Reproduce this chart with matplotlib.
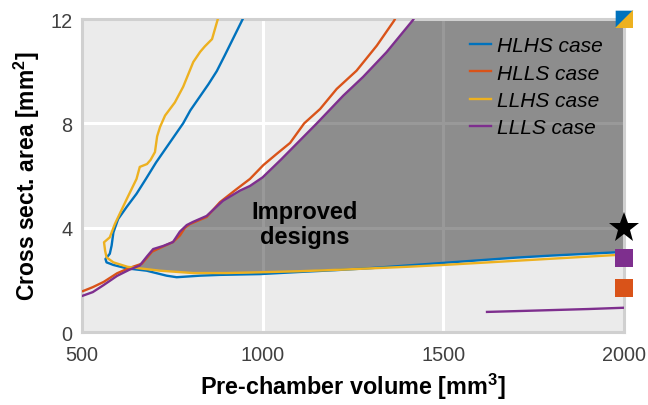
import numpy as np
import matplotlib
matplotlib.use('Agg')
import matplotlib.pyplot as plt

plt.rcParams['font.family'] = ['Liberation Sans', 'DejaVu Sans']
plt.rcParams['mathtext.fontset'] = 'custom'
plt.rcParams['mathtext.bf'] = 'Liberation Sans:bold'
plt.rcParams['mathtext.rm'] = 'Liberation Sans'

# Datos
hlhs_x = [945, 920, 895, 873, 850, 825, 800, 780, 755, 730, 705, 677, 651, 624, 600,
          587, 582, 577, 565, 568, 587, 624, 679, 734, 762, 827, 882, 993,
          1100, 1200, 1300, 1400, 1500, 1600, 1700, 1800, 1900, 2000]
hlhs_y = [12.0, 11.3, 10.6, 10.0, 9.5, 9.0, 8.5, 8.0, 7.5, 7.0, 6.5, 5.87, 5.3, 4.8, 4.33,
          3.82, 3.31, 3.0, 2.8, 2.67, 2.57, 2.44, 2.35, 2.16, 2.1, 2.16, 2.19, 2.22,
          2.3, 2.37, 2.45, 2.55, 2.65, 2.75, 2.85, 2.93, 3.0, 3.07]

hlls_x = [503, 530, 560, 597, 630, 666, 680, 694, 720, 752, 771, 785, 799, 845, 882,
          928, 965, 1002, 1039, 1076, 1115, 1159, 1205, 1260, 1316, 1364, 1368]
hlls_y = [1.57, 1.72, 1.92, 2.25, 2.45, 2.62, 2.85, 3.08, 3.25, 3.45, 3.7, 4.0, 4.14, 4.41, 4.98,
          5.48, 5.87, 6.4, 6.83, 7.25, 8.0, 8.55, 9.32, 10.02, 10.98, 11.94, 12.05]

llhs_x = [876, 860, 840, 827, 808, 780, 757, 730, 716, 708, 702, 690, 680, 660, 651, 624, 591, 577,
          561, 564, 568, 587, 626, 660, 716, 808, 900, 993,
          1100, 1200, 1300, 1400, 1500, 1600, 1700, 1800, 1900, 2000]
llhs_y = [12.0, 11.23, 10.95, 10.74, 10.35, 9.4, 8.8, 8.3, 7.86, 7.5, 6.9, 6.6, 6.44, 6.33, 5.87, 5.1, 4.14, 3.63,
          3.44, 3.12, 2.86, 2.67, 2.5, 2.44, 2.35, 2.26, 2.26, 2.29,
          2.33, 2.38, 2.44, 2.5, 2.57, 2.65, 2.73, 2.81, 2.89, 2.97]

llls_x = [500, 530, 560, 597, 630, 660, 680, 697, 725, 752, 771, 790, 807, 845, 890,
          937, 965, 1000, 1050, 1100, 1150, 1223, 1278, 1343, 1416, 1420]
llls_y = [1.38, 1.53, 1.8, 2.15, 2.38, 2.55, 2.9, 3.18, 3.3, 3.45, 3.85, 4.1, 4.22, 4.45, 5.03,
          5.42, 5.6, 5.93, 6.6, 7.3, 8.0, 9.06, 9.78, 10.73, 11.96, 12.05]

llls2_x = [1621, 1700, 1800, 1900, 2000]
llls2_y = [0.77, 0.8, 0.84, 0.88, 0.93]

casos = ['HLHS case', 'HLLS case', 'LLHS case', 'LLLS case']
colores = ['#0072BD', '#D95319', '#EDB120', '#7E2F8E']

# Puntos marcados en x = 2000
x_marca = 2000
y_cuadro_doble = 12.0
y_estrella = 4.0
y_cuadro_morado = 2.84
y_cuadro_naranja = 1.67

fig = plt.figure(figsize=(6.48, 4.06), dpi=100)
ax = fig.add_axes([0.1265, 0.1798, 0.8364, 0.7709])
ax.set_facecolor('#ebebeb')
ax.set_axisbelow(True)
ax.grid(True, color='white', linewidth=2.2)

# Zona de diseños mejorados (entre LLLS y las ramas inferiores)
i_b = int(np.argmin(hlhs_x))
i_y = int(np.argmin(llhs_x))
xg = np.linspace(600, 2000, 800)
inf_b = np.interp(xg, hlhs_x[i_b:], hlhs_y[i_b:])
inf_y = np.interp(xg, llhs_x[i_y:], llhs_y[i_y:])
inferior = np.maximum(inf_b, inf_y)
superior = np.minimum(np.interp(xg, llls_x, llls_y, right=12.0), 12.0)
ax.fill_between(xg, inferior, superior, where=superior >= inferior, interpolate=True,
                facecolor='black', alpha=0.4, linewidth=0, zorder=1)

lw = 1.7
ax.plot(hlhs_x, hlhs_y, color=colores[0], lw=lw, label=casos[0], zorder=3)
ax.plot(hlls_x, hlls_y, color=colores[1], lw=lw, label=casos[1], zorder=3)
ax.plot(llhs_x, llhs_y, color=colores[2], lw=lw, label=casos[2], zorder=3)
ax.plot(llls_x, llls_y, color=colores[3], lw=lw, label=casos[3], zorder=3)
ax.plot(llls2_x, llls2_y, color=colores[3], lw=lw, zorder=3)

# Marcadores fuera del borde
tri_sup = [(-1, 1), (1, 1), (-1, -1)]
tri_inf = [(1, 1), (1, -1), (-1, -1)]
ax.plot(x_marca, y_cuadro_doble, marker=tri_sup, ms=12.7, color=colores[0], mew=0, clip_on=False, zorder=5)
ax.plot(x_marca, y_cuadro_doble, marker=tri_inf, ms=12.7, color=colores[2], mew=0, clip_on=False, zorder=5)
ax.plot(x_marca, y_estrella, marker='*', ms=23, color='black', mew=0, clip_on=False, zorder=5)
ax.plot(x_marca, y_cuadro_morado, marker='s', ms=12.7, color=colores[3], mew=0, clip_on=False, zorder=5)
ax.plot(x_marca, y_cuadro_naranja, marker='s', ms=12.7, color=colores[1], mew=0, clip_on=False, zorder=5)

ax.text(1117, 4.15, 'Improved\ndesigns', ha='center', va='center', fontsize=17,
        fontweight='bold', linespacing=1.1, zorder=4)

ax.set_xlim(500, 2000)
ax.set_ylim(0, 12)
ax.set_xticks([500, 1000, 1500, 2000])
ax.set_yticks([0, 4, 8, 12])
ax.tick_params(length=0, labelsize=14.3, labelcolor='#404040')
ax.tick_params(axis='x', pad=9)
ax.tick_params(axis='y', pad=7)
for s in ax.spines.values():
    s.set_color('#d0d0d0')
    s.set_linewidth(2.2)

ax.set_xlabel(r'Pre-chamber volume [mm$^\mathbf{3}$]', fontsize=16.8, fontweight='bold', labelpad=5)
ax.set_ylabel(r'Cross sect. area [mm$^\mathbf{2}$]', fontsize=16.5, fontweight='bold', labelpad=6)

leg = ax.legend(loc='upper left', bbox_to_anchor=(0.716, 0.945), frameon=False,
                borderpad=0, borderaxespad=0, handlelength=1.0, handletextpad=0.3,
                labelspacing=0.4, prop={'style': 'italic', 'size': 15})

fig.savefig('out.png', dpi=100)
